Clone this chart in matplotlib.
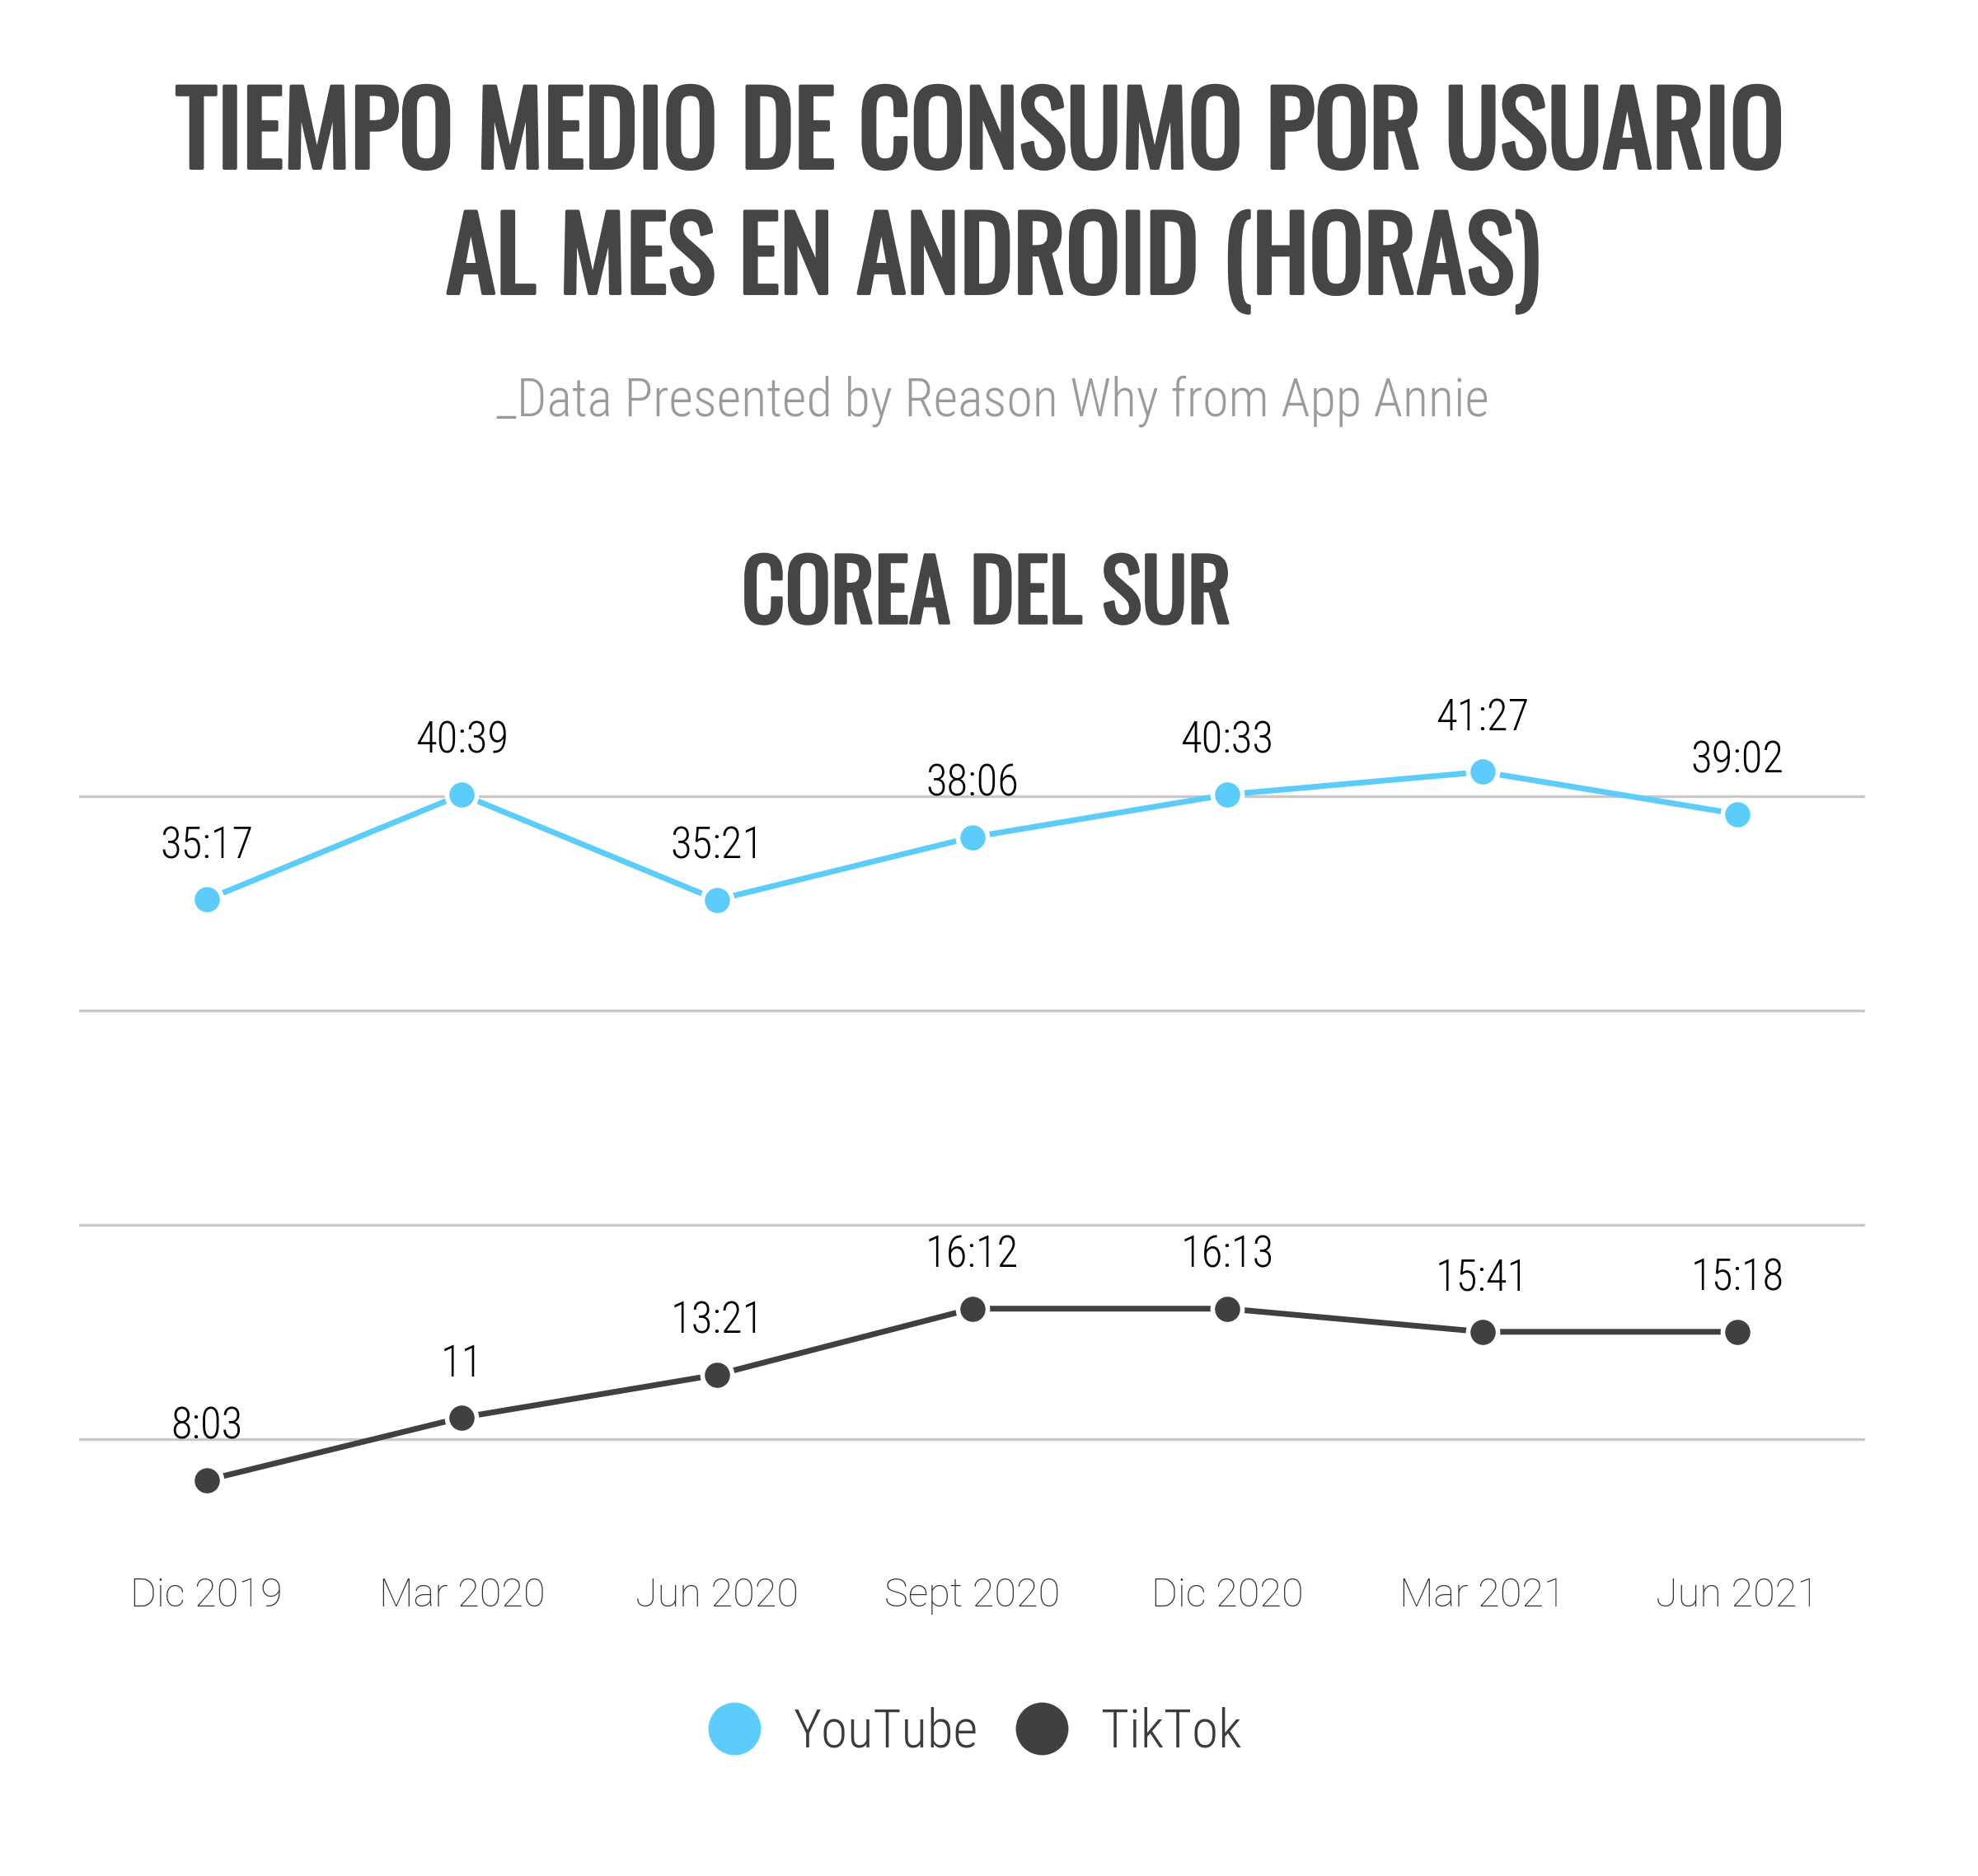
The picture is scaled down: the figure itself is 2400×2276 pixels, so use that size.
import matplotlib
matplotlib.use('Agg')
import matplotlib.pyplot as plt
import matplotlib.patheffects as pe
from matplotlib import font_manager as fm
from matplotlib.lines import Line2D

# data (hours per user per month)
periods = ['Dic 2019', 'Mar 2020', 'Jun 2020', 'Sept 2020', 'Dic 2020', 'Mar 2021', 'Jun 2021']
youtube = [35.17, 40.07, 35.16, 38.08, 40.07, 41.13, 39.16]
youtube_labels = ['35:17', '40:39', '35:21', '38:06', '40:33', '41:27', '39:02']
tiktok = [8.08, 11.0, 13.0, 16.08, 16.08, 15.0, 15.0]
tiktok_labels = ['8:03', '11', '13:21', '16:12', '16:13', '15:41', '15:18']
grid_values = [10, 20, 30, 40]

BLUE = '#5ccdfb'
DARK = '#404040'
TITLE_C = '#454545'

installed = {f.name for f in fm.fontManager.ttflist}

def pick(*cands):
    for c in cands:
        if c in installed:
            return c
    return 'DejaVu Sans'

title_font = pick('Oswald', 'Roboto Condensed', 'Liberation Sans Narrow', 'DejaVu Sans')
narrow_font = pick('Roboto Condensed', 'Liberation Sans Narrow', 'Roboto', 'Lato')
tick_font = pick('Roboto', 'Lato', 'Open Sans')

W, H = 2400, 2276
fig = plt.figure(figsize=(W / 100, H / 100), dpi=100)
fig.patch.set_facecolor('white')

# axes placed so that the 40 gridline sits at y=966px and the 10 gridline at y=1746px
ymin, ymax = 4.0, 44.5
px_per_unit = 26.0
top_px = 965.8 - (ymax - 40) * px_per_unit
height_px = (ymax - ymin) * px_per_unit
ax = fig.add_axes([96 / W, 1 - (top_px + height_px) / H, (2263 - 96) / W, height_px / H])

x = list(range(len(periods)))
ax.plot(x, youtube, color=BLUE, lw=5, marker='o', ms=26, mfc=BLUE, mec='white', mew=4,
        zorder=3)
ax.plot(x, tiktok, color=DARK, lw=5, marker='o', ms=26, mfc=DARK, mec='white', mew=4,
        zorder=3)

for xi, v, lab in zip(x, youtube, youtube_labels):
    ax.annotate(lab, (xi, v), xytext=(0, 36), textcoords='offset points', ha='center',
                va='baseline', fontsize=38, color='black', family=narrow_font,
                fontweight='light', zorder=4)
for xi, v, lab in zip(x, tiktok, tiktok_labels):
    ax.annotate(lab, (xi, v), xytext=(0, 36), textcoords='offset points', ha='center',
                va='baseline', fontsize=38, color='black', family=narrow_font,
                fontweight='light', zorder=4)

ax.set_xlim(-0.5, len(periods) - 0.5)
ax.set_ylim(ymin, ymax)
ax.set_yticks(grid_values)
ax.yaxis.grid(True, color='#c8c8c8', lw=2.4)
ax.set_axisbelow(True)
ax.tick_params(axis='y', length=0, labelleft=False)
ax.set_xticks(x)
ax.set_xticklabels(periods, fontsize=35, color='#333333', family=tick_font, fontweight='light')
ax.tick_params(axis='x', length=0, pad=8)
for s in ax.spines.values():
    s.set_visible(False)

handles = [Line2D([], [], ls='none', marker='o', ms=46, mfc=BLUE, mec='none', label='YouTube'),
           Line2D([], [], ls='none', marker='o', ms=46, mfc=DARK, mec='none', label='TikTok')]
leg = ax.legend(handles=handles, loc='center', bbox_to_anchor=(1182 / W, 1 - 2102 / H),
                bbox_transform=fig.transFigure, ncol=2, frameon=False, handlelength=1.0,
                handletextpad=0.6, columnspacing=0.68,
                prop=fm.FontProperties(family=narrow_font, size=47, weight='light'))
for t in leg.get_texts():
    t.set_color('#3c3c3c')

# titles, fitted to the widths they take in the original
renderer = fig.canvas.get_renderer()

def fit_text(x_px, y_px, s, width_px, **kw):
    t = fig.text(x_px / W, 1 - y_px / H, s, ha='center', va='baseline', **kw)
    w = t.get_window_extent(renderer=renderer).width
    t.set_fontsize(t.get_fontsize() * width_px / w)
    return t

heavy = [pe.withStroke(linewidth=2.8, foreground=TITLE_C)]
fit_text(1189, 204, 'TIEMPO MEDIO DE CONSUMO POR USUARIO', 1952, fontsize=90,
         family=title_font, fontweight='bold', color=TITLE_C, path_effects=heavy)
fit_text(1205, 356, 'AL MES EN ANDROID (HORAS)', 1328, fontsize=90, family=title_font,
         fontweight='bold', color=TITLE_C, path_effects=heavy)
fit_text(1205, 505, '_Data Presented by Reason Why from App Annie', 1205, fontsize=44,
         family=narrow_font, fontweight='light', color='#9a9a9a')
fit_text(1197, 756, 'COREA DEL SUR', 594, fontsize=76, family=title_font, fontweight='bold',
         color=TITLE_C, path_effects=[pe.withStroke(linewidth=2.4, foreground=TITLE_C)])

fig.savefig('out.png', dpi=100, facecolor='white')
